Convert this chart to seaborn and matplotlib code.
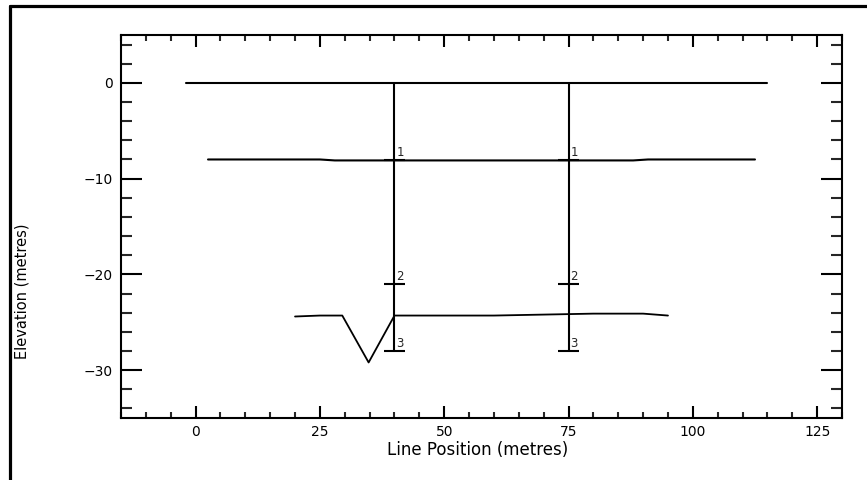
import matplotlib
matplotlib.use("Agg")
import matplotlib.pyplot as plt
from matplotlib.lines import Line2D
from matplotlib.ticker import MultipleLocator
import seaborn as sns
import pandas as pd

# ---- data ----
surface_x = [-2, 115]
surface_y = [0.0, 0.0]

layer1_x = [2.5, 25, 28, 88, 91, 112.5]
layer1_y = [-8.0, -8.0, -8.1, -8.1, -8.0, -8.0]

layer2_x = [20, 25, 29.5, 34.8, 40, 50, 60, 70, 80, 90, 95]
layer2_y = [-24.4, -24.3, -24.3, -29.2, -24.3, -24.3, -24.3, -24.2, -24.1, -24.1, -24.3]

borehole_x = [40, 75]
borehole_top = 0.0
marker_depths = [-8.1, -21.0, -28.0]
marker_labels = ["1", "2", "3"]

x_ticks = [0, 25, 50, 75, 100, 125]
y_ticks = [0, -10, -20, -30]

sns.set_theme(style="ticks")
plt.rcParams['font.family'] = ['DejaVu Sans']

fig = plt.figure(figsize=(8.67, 4.8), dpi=100)
ax = fig.add_axes([121 / 867, 1 - 418 / 480, (842 - 121) / 867, (418 - 35) / 480])

lw = 1.5
for xs, ys in [(surface_x, surface_y), (layer1_x, layer1_y)]:
    df = pd.DataFrame({"x": xs, "y": ys})
    sns.lineplot(data=df, x="x", y="y", sort=False, estimator=None, color="black",
                 linewidth=lw, ax=ax)
df2 = pd.DataFrame({"x": layer2_x, "y": layer2_y})
sns.lineplot(data=df2, x="x", y="y", sort=False, estimator=None, color="black",
             linewidth=1.3, ax=ax)

half = 2.2
for bx in borehole_x:
    dfb = pd.DataFrame({"x": [bx, bx], "y": [borehole_top, min(marker_depths)]})
    sns.lineplot(data=dfb, x="x", y="y", sort=False, estimator=None, color="black",
                 linewidth=lw, ax=ax)
    for d, lab in zip(marker_depths, marker_labels):
        ax.hlines(d, bx - half, bx + half, color="black", linewidth=lw)
        ax.text(bx + 0.4, d + 0.15, lab, fontsize=8.5, ha="left", va="bottom")

ax.set_xlim(-15, 130)
ax.set_ylim(-35, 5)
ax.set_xticks(x_ticks)
ax.set_yticks(y_ticks)
ax.set_xticklabels([str(v) for v in x_ticks])
ax.set_yticklabels([str(v).replace("-", "\u2212") for v in y_ticks])
ax.xaxis.set_minor_locator(MultipleLocator(5))
ax.yaxis.set_minor_locator(MultipleLocator(2))

for s in ax.spines.values():
    s.set_visible(True)
    s.set_linewidth(1.5)
    s.set_color("black")

ax.tick_params(axis="x", which="major", direction="in", length=8.6, width=1.5,
               top=True, bottom=True, labelsize=10, pad=5, colors="black")
ax.tick_params(axis="x", which="minor", direction="in", length=4.3, width=1.5,
               top=True, bottom=True)
ax.tick_params(axis="y", which="major", direction="in", length=15, width=1.5,
               left=True, right=True, labelsize=10, pad=6, colors="black")
ax.tick_params(axis="y", which="minor", direction="in", length=8, width=1.5,
               left=True, right=True)

ax.set_xlabel("Line Position (metres)", fontsize=12, color="black")
ax.set_ylabel("Elevation (metres)", fontsize=10.5, color="black")
ax.xaxis.set_label_coords(0.495, -0.06)
ax.yaxis.set_label_coords(-0.127, 0.33)
ax.grid(False)
ax.set_facecolor("white")
fig.patch.set_facecolor("white")

# frame lines of the window
fy = 1 - 5.8 / 480
fx = 10 / 867
fig.add_artist(Line2D([fx, 1.0], [fy, fy], transform=fig.transFigure, color="black", linewidth=2.3))
fig.add_artist(Line2D([fx, fx], [0.0, fy], transform=fig.transFigure, color="black", linewidth=2.3))

fig.savefig("out.png", dpi=100, facecolor="white")
